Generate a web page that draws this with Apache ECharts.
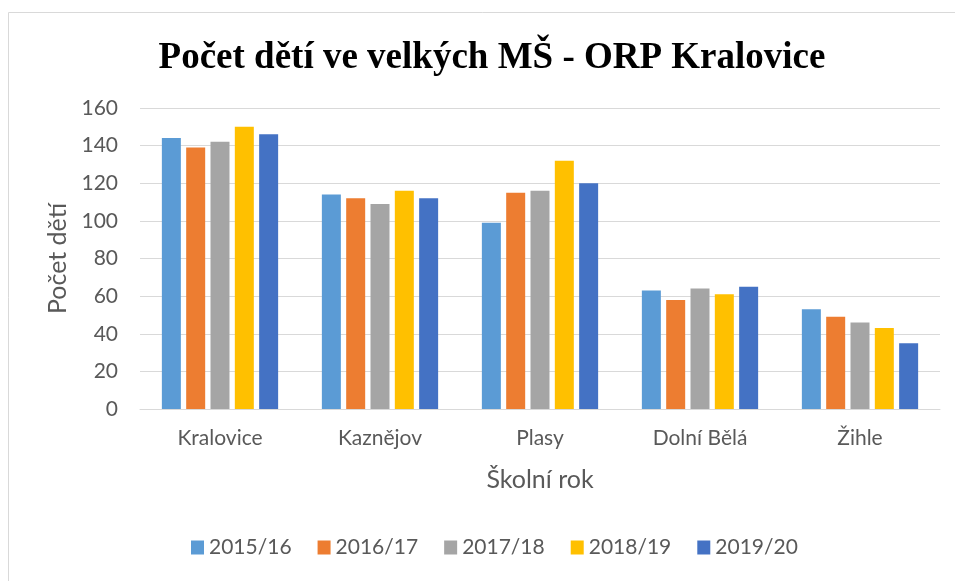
<!DOCTYPE html>
<html><head><meta charset="utf-8">
<script src="https://cdn.jsdelivr.net/npm/echarts@6/dist/echarts.min.js"></script>
<style>html,body{margin:0;padding:0;background:#fff}#c{width:955px;height:581px}</style>
</head><body><div id="c"></div>
<script>
const categories = ['Kralovice', 'Kaznějov', 'Plasy', 'Dolní Bělá', 'Žihle'];
const seriesNames = ['2015/16', '2016/17', '2017/18', '2018/19', '2019/20'];
const s2015 = [144, 114, 99, 63, 53];
const s2016 = [139, 112, 115, 58, 49];
const s2017 = [142, 109, 116, 64, 46];
const s2018 = [150, 116, 132, 61, 43];
const s2019 = [146, 112, 120, 65, 35];
const values = [s2015, s2016, s2017, s2018, s2019];
const colors = ['#5B9BD5', '#ED7D31', '#A5A5A5', '#FFC000', '#4472C4'];
const font = 'Lato, "Open Sans", sans-serif';

const chart = echarts.init(document.getElementById('c'));
chart.setOption({
  animation: false,
  color: colors,
  title: {
    text: 'Počet dětí ve velkých MŠ - ORP Kralovice',
    left: 487, textAlign: 'center', top: 35,
    textStyle: {fontFamily: '"Liberation Serif", "Times New Roman", serif', fontWeight: 'bold', fontSize: 37, color: '#000'}
  },
  graphic: [{type: 'rect', shape: {x: 8.5, y: 12.5, width: 1000, height: 700}, style: {fill: 'none', stroke: '#d9d9d9', lineWidth: 1}, silent: true}],
  legend: {
    bottom: 18, left: 186, itemWidth: 13, itemHeight: 14, itemGap: 26,
    icon: 'rect',
    textStyle: {fontFamily: font, fontSize: 21, color: '#595959'},
    data: seriesNames
  },
  grid: {left: 140, right: 15, top: 108, bottom: 172, containLabel: false},
  xAxis: {
    type: 'category', data: categories,
    name: 'Školní rok', nameLocation: 'middle', nameGap: 58,
    nameTextStyle: {fontFamily: font, fontSize: 25, color: '#595959'},
    axisLine: {lineStyle: {color: '#d9d9d9', width: 1}},
    axisTick: {show: false},
    axisLabel: {fontFamily: font, fontSize: 21, color: '#595959', margin: 19}
  },
  yAxis: {
    type: 'value', min: 0, max: 160, interval: 20,
    name: 'Počet dětí', nameLocation: 'middle', nameGap: 70, nameRotate: 90,
    nameTextStyle: {fontFamily: font, fontSize: 25, color: '#595959'},
    axisLine: {show: false}, axisTick: {show: false},
    splitLine: {lineStyle: {color: '#d9d9d9', width: 1}},
    axisLabel: {fontFamily: font, fontSize: 21, color: '#595959', margin: 22}
  },
  series: seriesNames.map((n, i) => ({
    name: n, type: 'bar', data: values[i],
    barWidth: 19, barGap: '28%', barCategoryGap: '27%'
  }))
});
</script></body></html>
